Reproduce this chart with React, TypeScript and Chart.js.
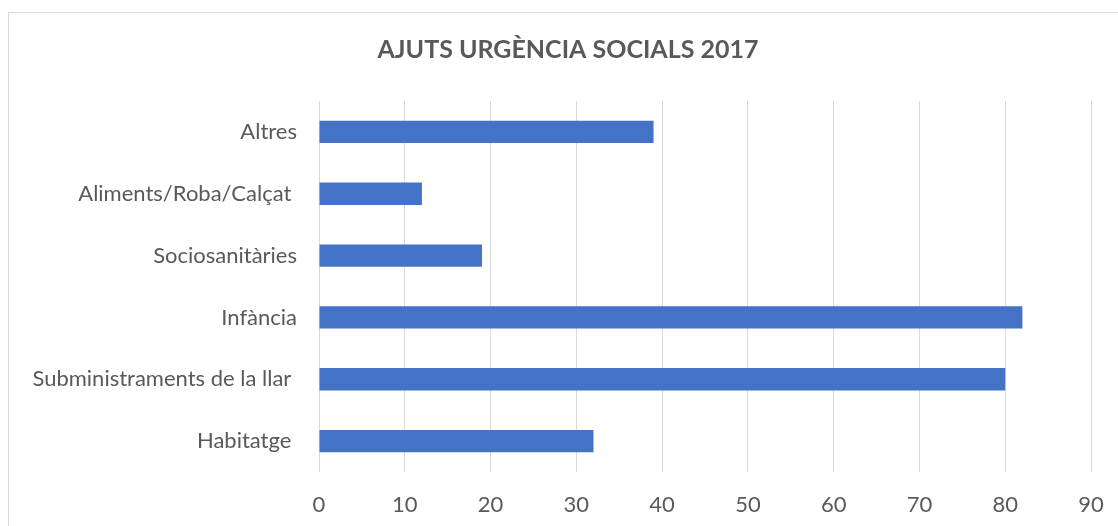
import React, { useEffect, useRef } from "react";
import { Chart, registerables } from "chart.js";

Chart.register(...registerables);

const categories = [
  "Altres",
  "Aliments/Roba/Calçat ",
  "Sociosanitàries",
  "Infància",
  "Subministraments de la llar ",
  "Habitatge ",
];
const values = [39, 12, 19, 82, 80, 32];
const xMin = 0;
const xMax = 90;
const xStep = 10;
const titleText = "AJUTS URGÈNCIA SOCIALS 2017";

const shiftTitle = {
  id: "shiftTitle",
  afterLayout(chart: any) {
    const t = chart.titleBlock;
    if (t) {
      t.left = 40;
      t.right = 1096;
    }
  },
};

export default function App() {
  const ref = useRef<HTMLCanvasElement | null>(null);

  useEffect(() => {
    if (!ref.current) return;
    const font = "Lato, 'Open Sans', sans-serif";
    const chart = new Chart(ref.current, {
      type: "bar",
      data: {
        labels: categories,
        datasets: [
          {
            data: values,
            backgroundColor: "#4472C4",
            borderWidth: 0,
            barPercentage: 0.36,
            categoryPercentage: 1,
          },
        ],
      },
      plugins: [shiftTitle],
      options: {
        indexAxis: "y",
        animation: false,
        responsive: false,
        maintainAspectRatio: false,
        layout: { padding: { left: 0, right: 27, top: 0, bottom: 0 } },
        plugins: {
          legend: { display: false },
          tooltip: { enabled: false },
          title: {
            display: true,
            text: titleText,
            color: "#595959",
            font: { family: font, size: 25, weight: "bold", lineHeight: 1.2 },
            padding: { top: 35, bottom: 36 },
          },
        },
        scales: {
          x: {
            min: xMin,
            max: xMax,
            ticks: {
              stepSize: xStep,
              color: "#595959",
              font: { family: font, size: 22 },
              padding: 20,
            },
            grid: { color: "#d9d9d9", lineWidth: 1, drawTicks: false },
            border: { display: false },
            afterFit: (s: any) => {
              s.height = 54;
              s.paddingLeft = 0;
              s.paddingRight = 0;
            },
          },
          y: {
            ticks: {
              color: "#595959",
              font: { family: font, size: 22 },
              padding: 22,
            },
            grid: { display: false, drawTicks: false },
            border: { display: false },
            afterFit: (s: any) => {
              s.width = 319;
            },
          },
        },
      },
    });
    return () => chart.destroy();
  }, []);

  return (
    <>
      <div
        style={{
          position: "fixed",
          left: 8,
          top: 12,
          width: 1200,
          height: 600,
          borderLeft: "1px solid #d9d9d9",
          borderTop: "1px solid #d9d9d9",
          boxSizing: "border-box",
        }}
      />
      <canvas
        ref={ref}
        width={1118}
        height={526}
        style={{ position: "fixed", left: 0, top: 0, width: 1118, height: 526 }}
      />
    </>
  );
}
